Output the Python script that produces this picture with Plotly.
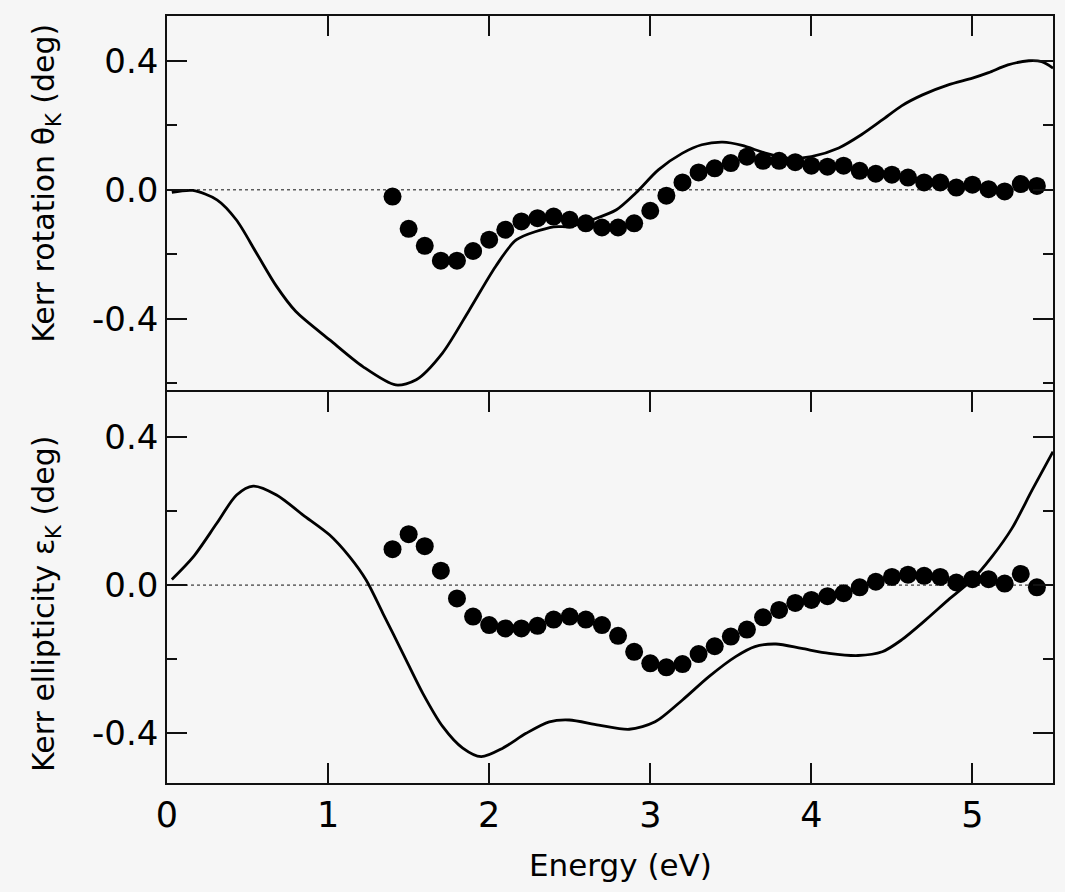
import plotly.graph_objects as go

# Calculated (solid line) - Kerr rotation
E_rot_calc = [0.03, 0.16, 0.31, 0.43, 0.556, 0.68, 0.80, 1.01, 1.216, 1.42, 1.547, 1.71, 1.877, 2.04,
              2.17, 2.4, 2.5, 2.64, 2.79, 2.91, 3.05, 3.2, 3.32, 3.45, 3.57, 3.715, 3.86, 4.0, 4.17,
              4.31, 4.44, 4.56, 4.69, 4.85, 5.0, 5.1, 5.22, 5.35, 5.43, 5.5]
rot_calc = [-0.008, -0.002, -0.031, -0.093, -0.197, -0.30, -0.378, -0.466, -0.549, -0.606, -0.59,
            -0.507, -0.373, -0.238, -0.155, -0.115, -0.114, -0.093, -0.062, -0.010, 0.062, 0.114,
            0.14, 0.148, 0.138, 0.114, 0.098, 0.103, 0.13, 0.171, 0.217, 0.261, 0.295, 0.326,
            0.347, 0.364, 0.388, 0.401, 0.398, 0.378]

# Calculated (solid line) - Kerr ellipticity
E_ell_calc = [0.03, 0.163, 0.308, 0.432, 0.535, 0.68, 0.845, 1.01, 1.134, 1.237, 1.34, 1.464, 1.588,
              1.712, 1.836, 1.95, 2.084, 2.229, 2.373, 2.497, 2.68, 2.87, 3.03, 3.2, 3.364, 3.53,
              3.65, 3.78, 3.94, 4.11, 4.29, 4.44, 4.56, 4.71, 4.85, 5.0, 5.12, 5.245, 5.37, 5.5]
ell_calc = [0.015, 0.076, 0.166, 0.243, 0.267, 0.243, 0.189, 0.135, 0.076, 0.013, -0.076, -0.184,
            -0.292, -0.382, -0.44, -0.463, -0.44, -0.40, -0.369, -0.364, -0.378, -0.389, -0.369,
            -0.31, -0.247, -0.193, -0.166, -0.159, -0.171, -0.184, -0.19, -0.18, -0.148, -0.094,
            -0.04, 0.015, 0.076, 0.153, 0.256, 0.36]

# Experimental points
E_exp = [1.4, 1.5, 1.6, 1.7, 1.8, 1.9, 2.0, 2.1, 2.2, 2.3, 2.4, 2.5, 2.6, 2.7, 2.8, 2.9, 3.0,
         3.1, 3.2, 3.3, 3.4, 3.5, 3.6, 3.7, 3.8, 3.9, 4.0, 4.1, 4.2, 4.3, 4.4, 4.5, 4.6, 4.7,
         4.8, 4.9, 5.0, 5.1, 5.2, 5.3, 5.4]
rot_exp = [-0.021, -0.121, -0.174, -0.22, -0.22, -0.19, -0.155, -0.124, -0.098, -0.088, -0.083,
           -0.093, -0.104, -0.117, -0.117, -0.104, -0.065, -0.018, 0.023, 0.054, 0.067, 0.083,
           0.103, 0.09, 0.09, 0.086, 0.075, 0.072, 0.075, 0.059, 0.05, 0.047, 0.038, 0.023,
           0.023, 0.007, 0.016, 0.002, -0.005, 0.018, 0.012]
ell_exp = [0.097, 0.1375, 0.105, 0.039, -0.036, -0.085, -0.108, -0.117, -0.117, -0.11, -0.093,
           -0.085, -0.093, -0.108, -0.137, -0.18, -0.211, -0.222, -0.213, -0.186, -0.165, -0.139,
           -0.12, -0.087, -0.067, -0.048, -0.04, -0.03, -0.022, -0.006, 0.009, 0.022, 0.028,
           0.025, 0.022, 0.007, 0.016, 0.016, 0.004, 0.030, -0.006]

x_ticks = [0, 1, 2, 3, 4, 5]
y_ticks = [-0.4, 0.0, 0.4]
y_ticktext = ["-0.4", "0.0", "0.4"]

BG = "#f6f6f6"
FONT = "DejaVu Sans"

fig = go.Figure()

# top panel (rotation): xaxis2 / yaxis2
fig.add_trace(go.Scatter(x=E_rot_calc, y=rot_calc, mode="lines", line=dict(color="black", width=2.8,
                         shape="spline", smoothing=0.8), xaxis="x2", yaxis="y2", showlegend=False))
fig.add_trace(go.Scatter(x=E_exp, y=rot_exp, mode="markers", marker=dict(color="black", size=18),
                         xaxis="x2", yaxis="y2", showlegend=False))
# bottom panel (ellipticity)
fig.add_trace(go.Scatter(x=E_ell_calc, y=ell_calc, mode="lines", line=dict(color="black", width=2.8,
                         shape="spline", smoothing=0.8), xaxis="x", yaxis="y", showlegend=False))
fig.add_trace(go.Scatter(x=E_exp, y=ell_exp, mode="markers", marker=dict(color="black", size=18),
                         xaxis="x", yaxis="y", showlegend=False))

# zero dotted lines
for xr, yr in (("x", "y"), ("x2", "y2")):
    fig.add_shape(type="line", xref=xr + " domain", yref=yr, x0=0, x1=1, y0=0, y1=0,
                  line=dict(color="#111", width=1, dash="dot"), layer="below")

split = 391 / 767
axis_common = dict(showline=True, linecolor="#111", linewidth=1.6, ticks="inside",
                   tickcolor="#111", tickwidth=1.6, ticklen=20, showgrid=False, zeroline=False)
minor_y = dict(dtick=0.2, tick0=0, ticklen=10, ticks="inside", tickcolor="#111",
               tickwidth=1.6, showgrid=False)

fig.update_layout(
    width=1065, height=892,
    margin=dict(l=167, r=10, t=16, b=109),
    paper_bgcolor=BG, plot_bgcolor=BG,
    font=dict(family=FONT, color="black"),
    xaxis=dict(domain=[0, 1], range=[0, 5.5], anchor="y", tickvals=x_ticks, mirror="ticks",
               tickfont=dict(size=35, family=FONT), **axis_common),
    yaxis=dict(domain=[0, split], range=[-0.534, 0.521], anchor="x", tickvals=y_ticks,
               ticktext=y_ticktext, mirror="ticks", tickfont=dict(size=34, family=FONT),
               minor=minor_y, **axis_common),
    xaxis2=dict(domain=[0, 1], range=[0, 5.5], anchor="y2", tickvals=x_ticks, side="top",
                showticklabels=False, mirror=False, **axis_common),
    yaxis2=dict(domain=[split, 1], range=[-0.628, 0.54], anchor="x2", tickvals=y_ticks,
                ticktext=y_ticktext, mirror="ticks", tickfont=dict(size=34, family=FONT),
                minor=minor_y, **axis_common),
)

fig.add_annotation(text="Kerr rotation θ<sub>K</sub> (deg)", xref="paper", yref="paper",
                   x=-0.137, y=0.782, textangle=-90, showarrow=False,
                   font=dict(size=30, family=FONT), xanchor="center", yanchor="middle")
fig.add_annotation(text="Kerr ellipticity ε<sub>K</sub> (deg)", xref="paper", yref="paper",
                   x=-0.137, y=0.233, textangle=-90, showarrow=False,
                   font=dict(size=30, family=FONT), xanchor="center", yanchor="middle")
fig.add_annotation(text="Energy (eV)", xref="paper", yref="paper", x=0.512, y=-0.107,
                   showarrow=False, font=dict(size=31, family=FONT),
                   xanchor="center", yanchor="middle")

fig.write_html("out.html")
